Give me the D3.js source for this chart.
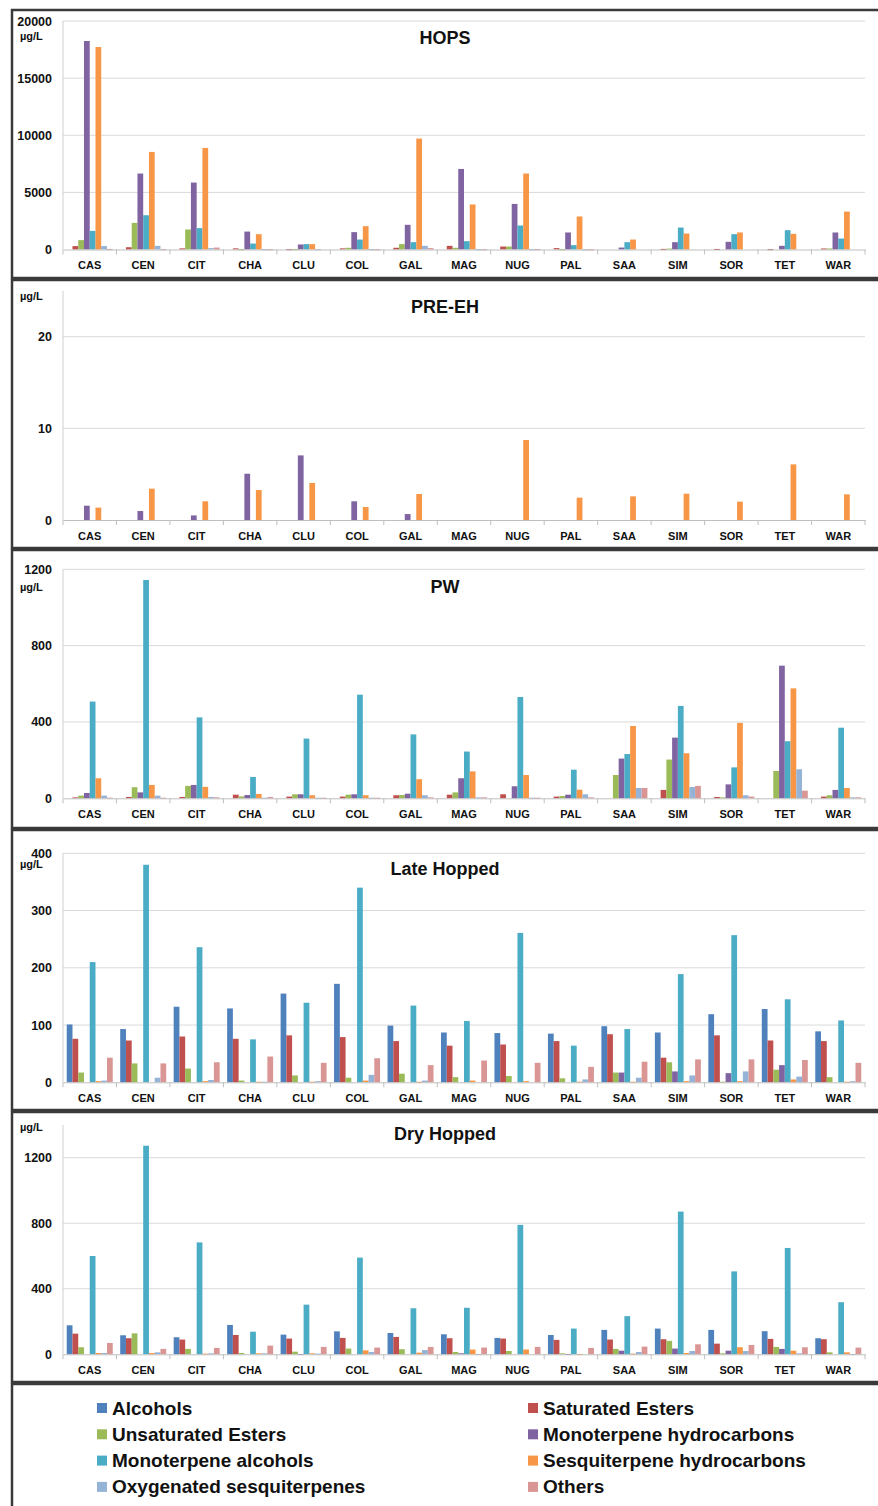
<!DOCTYPE html>
<html>
<head>
<meta charset="utf-8">
<script src="https://cdn.jsdelivr.net/npm/d3@7"></script>
<style>
  body { margin: 0; background: #fff; }
  text { font-family: "Liberation Sans", Arial, sans-serif; }
</style>
</head>
<body>
<div id="viz"></div>
<script>
// categories (hop varieties)
var categories = ['CAS','CEN','CIT','CHA','CLU','COL','GAL','MAG','NUG','PAL','SAA','SIM','SOR','TET','WAR'];
var seriesNames = ['Alcohols','Saturated Esters','Unsaturated Esters','Monoterpene hydrocarbons',
  'Monoterpene alcohols','Sesquiterpene hydrocarbons','Oxygenated sesquiterpenes','Others'];
var seriesColors = ['#4f81bd','#c0504d','#9bbb59','#8064a2','#4bacc6','#f79646','#95b3d7','#d99694'];

// one row per series, in the order of seriesNames
var hopsValues = [
  [0,0,0,0,0,0,0,0,0,0,0,0,0,0,0],
  [300,200,100,100,30,100,150,320,260,120,0,50,50,30,90],
  [820,2330,1750,20,30,150,470,150,260,20,0,80,0,0,90],
  [18250,6650,5860,1570,440,1520,2160,7050,3990,1490,170,640,670,320,1490],
  [1630,3000,1870,520,470,870,640,730,2100,380,640,1920,1340,1690,960],
  [17720,8540,8890,1340,470,2040,9710,3940,6650,2890,870,1400,1490,1370,3320],
  [300,320,120,30,20,30,320,20,20,10,0,0,0,0,0],
  [50,30,170,20,0,20,120,20,30,10,0,0,0,0,0]
];
var preEhValues = [
  [0,0,0,0,0,0,0,0,0,0,0,0,0,0,0],
  [0,0,0,0,0,0,0,0,0,0,0,0,0,0,0],
  [0,0,0,0,0,0,0,0,0,0,0,0,0,0,0],
  [1.56,0.98,0.5,5.05,7.05,2.04,0.65,0,0,0,0,0,0,0,0],
  [0,0,0,0,0,0,0,0,0,0,0,0,0,0,0],
  [1.35,3.42,2.04,3.27,4.04,1.42,2.84,0,8.73,2.44,2.58,2.87,2.0,6.07,2.8],
  [0,0,0,0,0,0,0,0,0,0,0,0,0,0,0],
  [0,0,0,0,0,0,0,0,0,0,0,0,0,0,0]
];
var pwValues = [
  [0,0,0,0,0,0,0,0,0,0,0,0,0,0,0],
  [5,7,7,19,9,9,16,19,21,9,0,44,7,0,9],
  [14,58,65,10,21,19,17,31,0,12,122,203,5,143,16],
  [28,31,70,17,21,21,24,105,63,19,208,318,73,695,44],
  [507,1144,424,112,313,543,335,245,531,150,232,484,162,299,370],
  [105,70,60,23,16,16,100,141,122,45,379,236,395,576,54],
  [14,14,7,3,3,3,16,5,3,21,54,59,16,152,5],
  [3,3,5,7,3,3,5,5,3,5,54,65,9,40,5]
];
var lateValues = [
  [101,93,132,129,155,172,99,87,86,85,98,87,119,128,89],
  [76,73,80,76,82,79,72,64,66,72,84,43,82,73,72],
  [17,33,24,3,12,8,15,9,11,7,17,35,1,22,9],
  [0,0,0,0,0,0,0,0,0,0,17,19,16,30,0],
  [210,380,236,75,139,340,134,107,261,64,93,189,257,145,108],
  [2,0,2,1,1,3,1,3,2,1,1,2,2,5,1],
  [3,8,4,1,2,13,3,0,0,5,8,12,19,10,2],
  [43,33,35,45,34,42,30,38,34,27,36,40,40,39,34]
];
var dryValues = [
  [177,116,104,179,120,140,130,122,100,118,149,157,149,141,98],
  [126,98,90,118,96,100,106,98,96,88,90,92,65,94,92],
  [43,128,33,8,16,35,31,14,20,6,33,82,6,45,12],
  [0,0,0,0,2,0,0,6,0,2,22,35,22,33,0],
  [600,1273,683,138,303,590,281,284,790,157,233,871,506,649,318],
  [8,8,4,6,6,24,10,29,29,2,4,8,43,22,12],
  [8,12,6,6,4,14,26,2,0,0,14,20,20,6,2],
  [69,33,39,53,45,41,45,41,45,39,47,61,57,43,41]
];

var panelTitles = ['HOPS','PRE-EH','PW','Late Hopped','Dry Hopped'];
var panelMax = [20000, 25, 1200, 400, 1400];
var panelTicks = [[0,5000,10000,15000,20000],[0,10,20],[0,400,800,1200],[0,100,200,300,400],[0,400,800,1200]];
var panelData = [hopsValues, preEhValues, pwValues, lateValues, dryValues];

var W = 878, H = 1506;
var svg = d3.select('#viz').append('svg')
  .attr('width', W).attr('height', H);

// layout of each panel box
var boxes = [
  {top: 10, bottom: 278, base: 249.5, unitY: 40, titleY: 44},
  {top: 280, bottom: 548, base: 520, unitY: 300, titleY: 313},
  {top: 550, bottom: 828, base: 798.3, unitY: 591, titleY: 593},
  {top: 830, bottom: 1110, base: 1082.3, unitY: 868, titleY: 875},
  {top: 1112, bottom: 1382, base: 1354.3, unitY: 1131, titleY: 1140}
];
// top pixel of domain max
var topPx = [21, 290.9, 569.3, 853.3, 1124.9];

var x0 = d3.scaleBand().domain(categories).range([63, 865]).padding(0);
var x1 = d3.scaleBand().domain(d3.range(8)).range([0, x0.bandwidth()])
  .paddingInner(0).paddingOuter(0.65);

boxes.forEach(function(b, p){
  var g = svg.append('g');
  g.append('rect')
    .attr('x', 12).attr('y', b.top)
    .attr('width', W - 12 + 2).attr('height', b.bottom - b.top)
    .style('fill', 'none').style('stroke', '#3a3a3a').style('stroke-width', 2.5);

  var y = d3.scaleLinear().domain([0, panelMax[p]]).range([b.base, topPx[p]]);

  // gridlines
  g.selectAll('.grid').data(panelTicks[p].slice(1)).enter().append('line')
    .attr('x1', 63).attr('x2', 865)
    .attr('y1', function(d){ return y(d); }).attr('y2', function(d){ return y(d); })
    .style('stroke', '#d9d9d9').style('stroke-width', 1);

  // y axis line
  g.append('line').attr('x1', 63).attr('x2', 63)
    .attr('y1', topPx[p]).attr('y2', b.base)
    .style('stroke', '#d0d0d0');

  var yAxis = g.append('g').attr('transform', 'translate(63,0)')
    .call(d3.axisLeft(y).tickValues(panelTicks[p]).tickSize(0).tickPadding(11).tickFormat(d3.format('d')));
  yAxis.select('.domain').remove();
  yAxis.selectAll('text').style('font-size', '12.5px').style('font-weight', 'bold').style('fill', '#111');

  g.append('text').attr('x', 20).attr('y', b.unitY)
    .text('µg/L').style('font-size', '11px').style('font-weight', 'bold').style('fill', '#111');

  g.append('text').attr('x', 445).attr('y', b.titleY)
    .attr('text-anchor', 'middle')
    .text(panelTitles[p]).style('font-size', '18px').style('font-weight', 'bold').style('fill', '#111');

  // bars
  var groups = g.selectAll('.cat').data(categories).enter().append('g')
    .attr('transform', function(d){ return 'translate(' + x0(d) + ',0)'; });
  groups.selectAll('rect').data(function(d, i){
      return panelData[p].map(function(row, s){ return {s: s, v: row[i]}; }).filter(function(e){ return e.v > 0; });
    })
    .enter().append('rect')
    .attr('x', function(d){ return x1(d.s); })
    .attr('width', x1.bandwidth())
    .attr('y', function(d){ return y(d.v); })
    .attr('height', function(d){ return Math.max(1, b.base - y(d.v)); })
    .style('fill', function(d){ return seriesColors[d.s]; });

  // x axis
  var xAxis = g.append('g').attr('transform', 'translate(0,' + b.base + ')')
    .call(d3.axisBottom(x0).tickSize(0).tickPadding(12));
  xAxis.select('.domain').style('stroke', '#bfbfbf');
  xAxis.selectAll('text').style('font-size', '11px').style('font-weight', 'bold').style('fill', '#111');
  g.selectAll('.xt').data(d3.range(16)).enter().append('line')
    .attr('x1', function(i){ return 63 + i * x0.step(); })
    .attr('x2', function(i){ return 63 + i * x0.step(); })
    .attr('y1', b.base).attr('y2', b.base + 5)
    .style('stroke', '#bfbfbf');
});

// legend
svg.append('rect').attr('x', 12).attr('y', 1384).attr('width', W).attr('height', 140)
  .style('fill', 'none').style('stroke', '#3a3a3a').style('stroke-width', 2.5);
var leg = svg.selectAll('.leg').data(seriesNames).enter().append('g')
  .attr('transform', function(d, i){
    return 'translate(' + (i % 2 === 0 ? 97 : 528) + ',' + (1408 + Math.floor(i / 2) * 26.3) + ')';
  });
leg.append('rect').attr('x', 0).attr('y', -5).attr('width', 10).attr('height', 10)
  .style('fill', function(d, i){ return seriesColors[i]; });
leg.append('text').attr('x', 15).attr('y', 6.5)
  .text(function(d){ return d; })
  .style('font-size', '19px').style('font-weight', 'bold').style('fill', '#111');
</script>
</body>
</html>
